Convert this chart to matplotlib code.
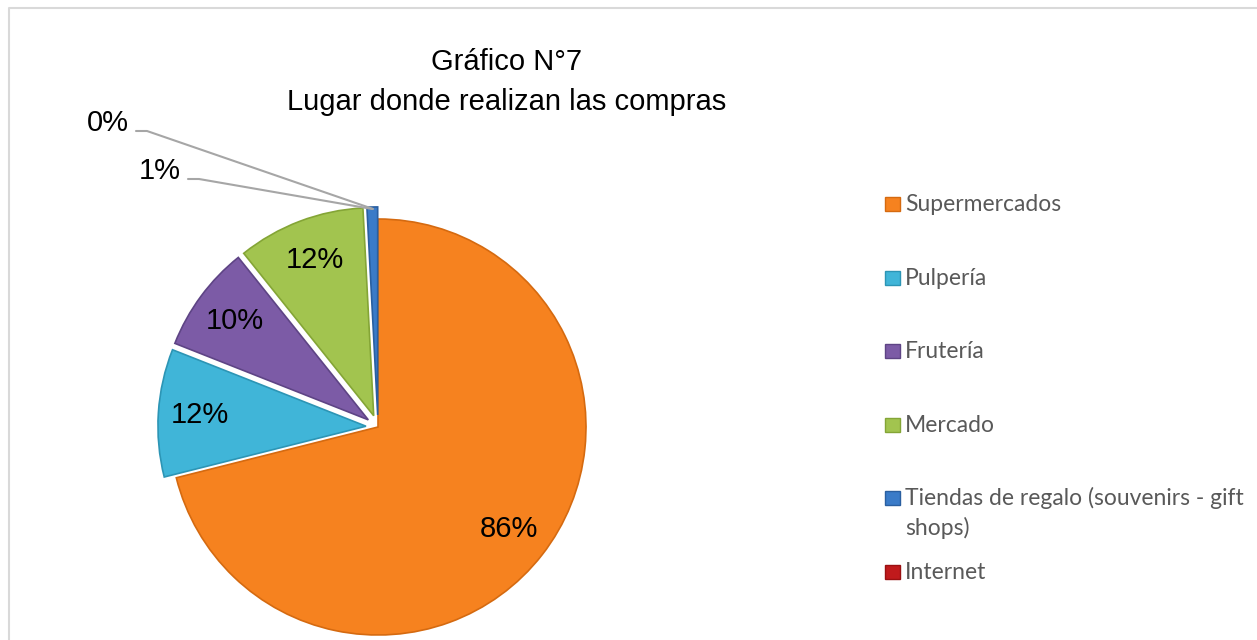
import numpy as np
import matplotlib.pyplot as plt
from matplotlib.patches import Rectangle

# data
categories = ["Supermercados", "Pulpería", "Frutería", "Mercado",
              "Tiendas de regalo (souvenirs - gift shops)", "Internet"]
legend_lines = [["Supermercados"], ["Pulpería"], ["Frutería"], ["Mercado"],
                ["Tiendas de regalo (souvenirs - gift", "shops)"], ["Internet"]]
values = [86, 12, 10, 12, 1, 0]
colors = ["#F6821F", "#40B5D8", "#7C5BA6", "#A2C44F", "#3A7BC8", "#C01A1C"]
edge_colors = ["#D56A10", "#2C95B5", "#5E4485", "#84A536", "#2A5FA0", "#9A1012"]
explode = [0.0, 0.058, 0.058, 0.058, 0.058, 0.058]
title_lines = ["Gráfico N°7", "Lugar donde realizan las compras"]

W, H = 1257, 640
fig = plt.figure(figsize=(W / 100, H / 100), dpi=100)
ax = fig.add_axes([0, 0, 1, 1])

# pie in pixel units (y measured from the bottom)
cx, cy, r = 378, 640 - 427, 208
wedges, _ = ax.pie(values, colors=colors, explode=[e * r for e in explode],
                   startangle=90, counterclock=False, radius=r,
                   center=(cx, cy), frame=True,
                   wedgeprops=dict(linewidth=1.2))
for w, ec, v in zip(wedges, edge_colors, values):
    w.set_edgecolor(ec)
    if v == 0:
        w.set_linewidth(0)

ax.set_xlim(0, W)
ax.set_ylim(0, H)
ax.set_aspect("auto")
ax.axis("off")

# percentage labels
outside_pos = {4: (181, 640 - 171), 5: (129, 640 - 123)}
for i, w in enumerate(wedges):
    mid = np.deg2rad((w.theta1 + w.theta2) / 2)
    pct = f"{values[i] / 100:.0%}"
    if i in outside_pos:
        tx, ty = outside_pos[i]
        ax.text(tx, ty, pct, ha="right", va="center", fontsize=21,
                family="Liberation Sans", color="black")
        tip_r = r * (1 + explode[i]) - 2
        px = cx + tip_r * np.cos(mid) - (5 if i == 5 else 0)
        py = cy + tip_r * np.sin(mid)
        yline = ty - 8
        ax.plot([tx + 7, tx + 18, px], [yline, yline, py],
                color="#A6A6A6", lw=1.5, solid_capstyle="round")
    else:
        d = r * 0.8 + r * explode[i]
        ax.text(cx + d * np.cos(mid), cy + d * np.sin(mid), pct,
                ha="center", va="center", fontsize=21,
                family="Liberation Sans", color="black")

# title
ax.text(507, 640 - 70, title_lines[0], ha="center", va="baseline",
        fontsize=21, family="Liberation Sans", color="black")
ax.text(507, 640 - 110, title_lines[1], ha="center", va="baseline",
        fontsize=21, family="Liberation Sans", color="black")

# legend
for i, lines in enumerate(legend_lines):
    base = 211 + i * 73.6
    ax.add_patch(Rectangle((885, 640 - base), 15, 14, facecolor=colors[i],
                           edgecolor=edge_colors[i], lw=1))
    for k, line in enumerate(lines):
        ax.text(905, 640 - (base + k * 30), line, ha="left", va="baseline",
                fontsize=16.5, family="Lato", color="#595959")

# chart border (only top and left visible in the crop)
ax.plot([9, 9, W + 5], [-5, 640 - 8, 640 - 8], color="#D9D9D9", lw=1.5)

fig.savefig("out.png", dpi=100)
